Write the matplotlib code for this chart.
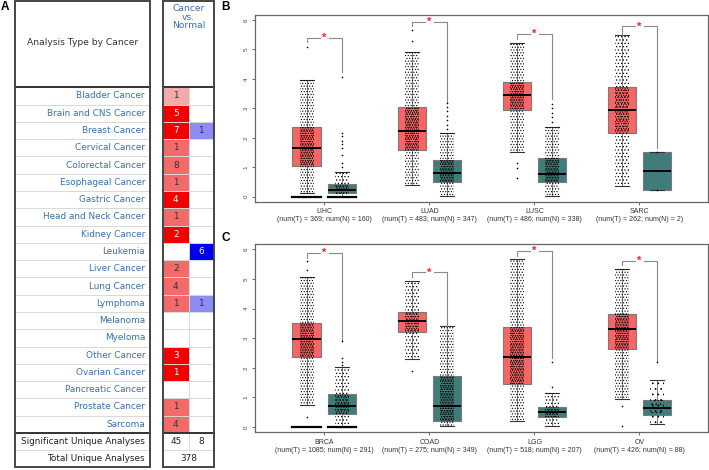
import matplotlib.pyplot as plt
from matplotlib.patches import Rectangle

plt.rcParams['font.family'] = ['Liberation Sans', 'DejaVu Sans']
plt.rcParams['hatch.color'] = 'black'
plt.rcParams['hatch.linewidth'] = 0.5

# ---------------- panel A data ----------------
cancers = ['Bladder Cancer', 'Brain and CNS Cancer', 'Breast Cancer', 'Cervical Cancer',
           'Colorectal Cancer', 'Esophageal Cancer', 'Gastric Cancer', 'Head and Neck Cancer',
           'Kidney Cancer', 'Leukemia', 'Liver Cancer', 'Lung Cancer', 'Lymphoma',
           'Melanoma', 'Myeloma', 'Other Cancer', 'Ovarian Cancer', 'Pancreatic Cancer',
           'Prostate Cancer', 'Sarcoma']
up_counts = [1, 5, 7, 1, 8, 1, 4, 1, 2, None, 2, 4, 1, None, None, 3, 1, None, 1, 4]
# shade level of the red cell: 0 light, 1 medium, 2 strong
up_levels = [0, 2, 2, 1, 1, 1, 2, 1, 2, None, 1, 1, 1, None, None, 2, 2, None, 1, 1]
down_counts = [None, None, 1, None, None, None, None, None, None, 6, None, None, 1,
               None, None, None, None, None, None, None]
down_levels = [None, None, 0, None, None, None, None, None, None, 2, None, None, 0,
               None, None, None, None, None, None, None]
sig_up, sig_down, total_analyses = 45, 8, 378

# ---------------- panels B / C data ----------------
# box stats per group: [whislo, q1, median, q3, whishi]
groups_b = ['LIHC', 'LUAD', 'LUSC', 'SARC']
nt_b = [369, 483, 486, 262]
nn_b = [160, 347, 338, 2]
tumor_b = [[0.14, 1.04, 1.65, 2.36, 3.96], [0.39, 1.60, 2.24, 3.03, 4.91],
           [1.51, 2.93, 3.46, 3.88, 5.23], [0.35, 2.18, 2.96, 3.74, 5.50]]
normal_b = [[0.0, 0.12, 0.23, 0.42, 0.83], [0.01, 0.49, 0.80, 1.24, 2.17],
            [0.01, 0.49, 0.77, 1.31, 2.37], [0.24, 0.24, 0.88, 1.51, 1.51]]
tumor_out_b = [[5.1], [5.65, 5.3], [1.15, 0.97, 0.63], []]
normal_out_b = [[4.06, 2.18, 2.05, 1.9, 1.8, 1.65, 1.4, 1.16, 1.0],
                [3.18, 3.05, 2.9, 2.75, 2.6, 2.45, 2.3],
                [3.15, 3.0, 2.85, 2.7, 2.55], [1.51, 0.24]]
zeros_b = [True, False, False, False]
brk_top_b = [5.39, 5.93, 5.53, 5.78]
brk_left_b = [5.25, 5.78, 5.35, 5.50]
brk_right_b = [4.25, 3.21, 3.33, 1.67]

groups_c = ['BRCA', 'COAD', 'LGG', 'OV']
nt_c = [1085, 275, 518, 426]
nn_c = [291, 349, 207, 88]
tumor_c = [[0.74, 2.37, 2.96, 3.50, 5.05], [2.29, 3.20, 3.59, 3.90, 4.93],
           [0.19, 1.46, 2.37, 3.36, 5.67], [0.94, 2.64, 3.30, 3.80, 5.35]]
normal_c = [[0.0, 0.44, 0.71, 1.11, 2.02], [0.03, 0.21, 0.71, 1.73, 3.40],
            [0.03, 0.34, 0.49, 0.68, 1.15], [0.09, 0.40, 0.65, 0.92, 1.59]]
tumor_out_c = [[5.59, 5.3, 0.34], [1.89], [], [0.71, 0.03]]
normal_out_c = [[2.9, 2.32, 2.2, 2.1], [], [2.19, 1.36], [2.21]]
zeros_c = [True, False, False, False]
brk_top_c = [5.87, 5.22, 5.95, 5.62]
brk_left_c = [5.70, 5.08, 5.78, 5.48]
brk_right_c = [2.90, 3.40, 2.32, 2.21]

W, H = 709, 470
fig = plt.figure(figsize=(W / 100, H / 100), dpi=100)

# ================= panel A (drawn in pixel coordinates) =================
axa = fig.add_axes([0, 0, 1, 1])
axa.set_xlim(0, W)
axa.set_ylim(H, 0)
axa.axis('off')

name_col = '#3570b4'
reds = ['#f5a9a9', '#f26a6a', '#f20000']
blues = ['#8c8cf4', '#6060f0', '#0000f0']
fs = 6.4
t1_l, t1_r = 15, 150
t2_l, t2_m, t2_r = 163, 188.7, 214
top, head_bot = 1, 87.3
row_h = 17.28
list_bot = head_bot + row_h * len(cancers)
sum_h = (467.3 - list_bot) / 2
bot = list_bot + 2 * sum_h

for i, name in enumerate(cancers):
    y0 = head_bot + i * row_h
    yc = y0 + row_h / 2
    axa.text(t1_r - 5, yc, name, ha='right', va='center', fontsize=fs,
             color=name_col, family='DejaVu Sans')
    if up_counts[i] is not None:
        axa.add_patch(Rectangle((t2_l, y0), t2_m - t2_l, row_h, color=reds[up_levels[i]], lw=0))
        tc = 'white' if up_levels[i] == 2 else '#333333'
        axa.text((t2_l + t2_m) / 2, yc, str(up_counts[i]), ha='center', va='center',
                 fontsize=fs, color=tc, family='DejaVu Sans')
    if down_counts[i] is not None:
        axa.add_patch(Rectangle((t2_m, y0), t2_r - t2_m, row_h, color=blues[down_levels[i]], lw=0))
        tc = 'white' if down_levels[i] == 2 else '#333333'
        axa.text((t2_m + t2_r) / 2, yc, str(down_counts[i]), ha='center', va='center',
                 fontsize=fs, color=tc, family='DejaVu Sans')
    if i > 0:
        for xl, xr in [(t1_l, t1_r), (t2_l, t2_r)]:
            axa.plot([xl, xr], [y0, y0], color='#d8d8d8', lw=0.7, zorder=1)

# column split in second table
axa.plot([t2_m, t2_m], [head_bot, list_bot + sum_h], color='#d8d8d8', lw=0.7, zorder=1)

# summary rows
sy1 = list_bot + sum_h / 2
sy2 = list_bot + 1.5 * sum_h
axa.text(t1_r - 5, sy1, 'Significant Unique Analyses', ha='right', va='center',
         fontsize=fs, color='#222222', family='DejaVu Sans')
axa.text(t1_r - 5, sy2, 'Total Unique Analyses', ha='right', va='center',
         fontsize=fs, color='#222222', family='DejaVu Sans')
axa.text((t2_l + t2_m) / 2, sy1, str(sig_up), ha='center', va='center', fontsize=fs,
         color='#222222', family='DejaVu Sans')
axa.text((t2_m + t2_r) / 2, sy1, str(sig_down), ha='center', va='center', fontsize=fs,
         color='#222222', family='DejaVu Sans')
axa.text((t2_l + t2_r) / 2, sy2, str(total_analyses), ha='center', va='center', fontsize=fs,
         color='#222222', family='DejaVu Sans')
for xl, xr in [(t1_l, t1_r), (t2_l, t2_r)]:
    axa.plot([xl, xr], [list_bot + sum_h] * 2, color='#d8d8d8', lw=0.7, zorder=1)
    axa.plot([xl, xr], [head_bot] * 2, color='#333333', lw=1.4, zorder=3)
    axa.plot([xl, xr], [list_bot] * 2, color='#333333', lw=1.4, zorder=3)
    axa.add_patch(Rectangle((xl, top), xr - xl, bot - top, fill=False,
                            ec='#444444', lw=1.4, zorder=3))

axa.text((t1_l + t1_r) / 2, 42.5, 'Analysis Type by Cancer', ha='center', va='center',
         fontsize=6.6, color='#333333', family='DejaVu Sans')
axa.text((t2_l + t2_r) / 2, 4, 'Cancer\nvs.\nNormal', ha='center', va='top', fontsize=6.6,
         color=name_col, linespacing=0.95, family='DejaVu Sans')

axa.text(4.5, 7, 'A', ha='center', va='center', fontsize=8.5, fontweight='bold')
axa.text(226, 7, 'B', ha='center', va='center', fontsize=8.5, fontweight='bold')
axa.text(226, 238, 'C', ha='center', va='center', fontsize=8.5, fontweight='bold')

# ================= panels B and C =================
T_COL = '#f76564'
N_COL = '#3f7c7a'
off, bw, jw = 0.168, 0.27, 0.13


def density(n):
    # (whisker-range texture, extra texture inside the box)
    if n >= 300:
        return '......', '........'
    if n >= 150:
        return '.....', '.......'
    if n >= 50:
        return '...', '....'
    return None


def draw_panel(ax, groups, nt, nn, tumor, normal, t_out, n_out, zeros, btop, bleft, bright):
    for i, g in enumerate(groups):
        xc = i + 1
        for xp, st, col, n, outs in [(xc - off, tumor[i], T_COL, nt[i], t_out[i]),
                                     (xc + off, normal[i], N_COL, nn[i], n_out[i])]:
            stats = [dict(whislo=st[0], q1=st[1], med=st[2], q3=st[3], whishi=st[4], fliers=[])]
            ax.bxp(stats, positions=[xp], widths=bw, patch_artist=True, showfliers=False,
                   boxprops=dict(facecolor=col, edgecolor='#7a7a7a', lw=0.8),
                   medianprops=dict(color='black', lw=1.4, zorder=5),
                   whiskerprops=dict(color='#666666', lw=0.6),
                   capprops=dict(color='#333333', lw=0.8), capwidths=0.13)
            hatch = density(n)
            if hatch:
                ax.add_patch(Rectangle((xp - jw / 2, st[0]), jw, st[4] - st[0], fill=False,
                                       hatch=hatch[0], lw=0, zorder=4))
                ax.add_patch(Rectangle((xp - jw / 2, st[1]), jw, st[3] - st[1], fill=False,
                                       hatch=hatch[1], lw=0, zorder=4))
            if outs:
                ax.scatter([xp] * len(outs), outs, s=1.4, color='black', zorder=4, lw=0)
            if zeros[i]:
                ax.plot([xp - bw / 2, xp + bw / 2], [0, 0], color='black', lw=1.6, zorder=4)
        # significance bracket
        xl, xr = xc - off, xc + off
        ax.plot([xl, xl, xc - 0.04], [bleft[i], btop[i], btop[i]], color='#8a8a8a', lw=0.8)
        ax.plot([xc + 0.04, xr, xr], [btop[i], btop[i], bright[i]], color='#8a8a8a', lw=0.8)
        ax.text(xc, btop[i], '*', color='#ff2020', ha='center', va='center', fontsize=8,
                fontweight='bold')
    ax.set_xlim(0.34, 4.65)
    ax.set_ylim(-0.18, 6.17)
    ax.set_yticks(range(7))
    ax.set_yticklabels([str(v) for v in range(7)], rotation=90, va='center', fontsize=4.5,
                       color='#444444')
    ax.set_xticks([1, 2, 3, 4])
    ax.set_xticklabels(['%s\n(num(T) = %d; num(N) = %d)' % (g, a, b)
                        for g, a, b in zip(groups, nt, nn)], fontsize=5, color='#333333')
    ax.tick_params(length=2.5, width=0.6, color='#555555', pad=2)
    for sp in ax.spines.values():
        sp.set_color('#666666')
        sp.set_linewidth(0.9)


axb = fig.add_axes([255 / W, (H - 202) / H, 452.7 / W, 187 / H])
draw_panel(axb, groups_b, nt_b, nn_b, tumor_b, normal_b, tumor_out_b, normal_out_b,
           zeros_b, brk_top_b, brk_left_b, brk_right_b)
axc = fig.add_axes([255 / W, (H - 432.3) / H, 452.7 / W, 188 / H])
draw_panel(axc, groups_c, nt_c, nn_c, tumor_c, normal_c, tumor_out_c, normal_out_c,
           zeros_c, brk_top_c, brk_left_c, brk_right_c)

fig.savefig('out.png', dpi=100)
